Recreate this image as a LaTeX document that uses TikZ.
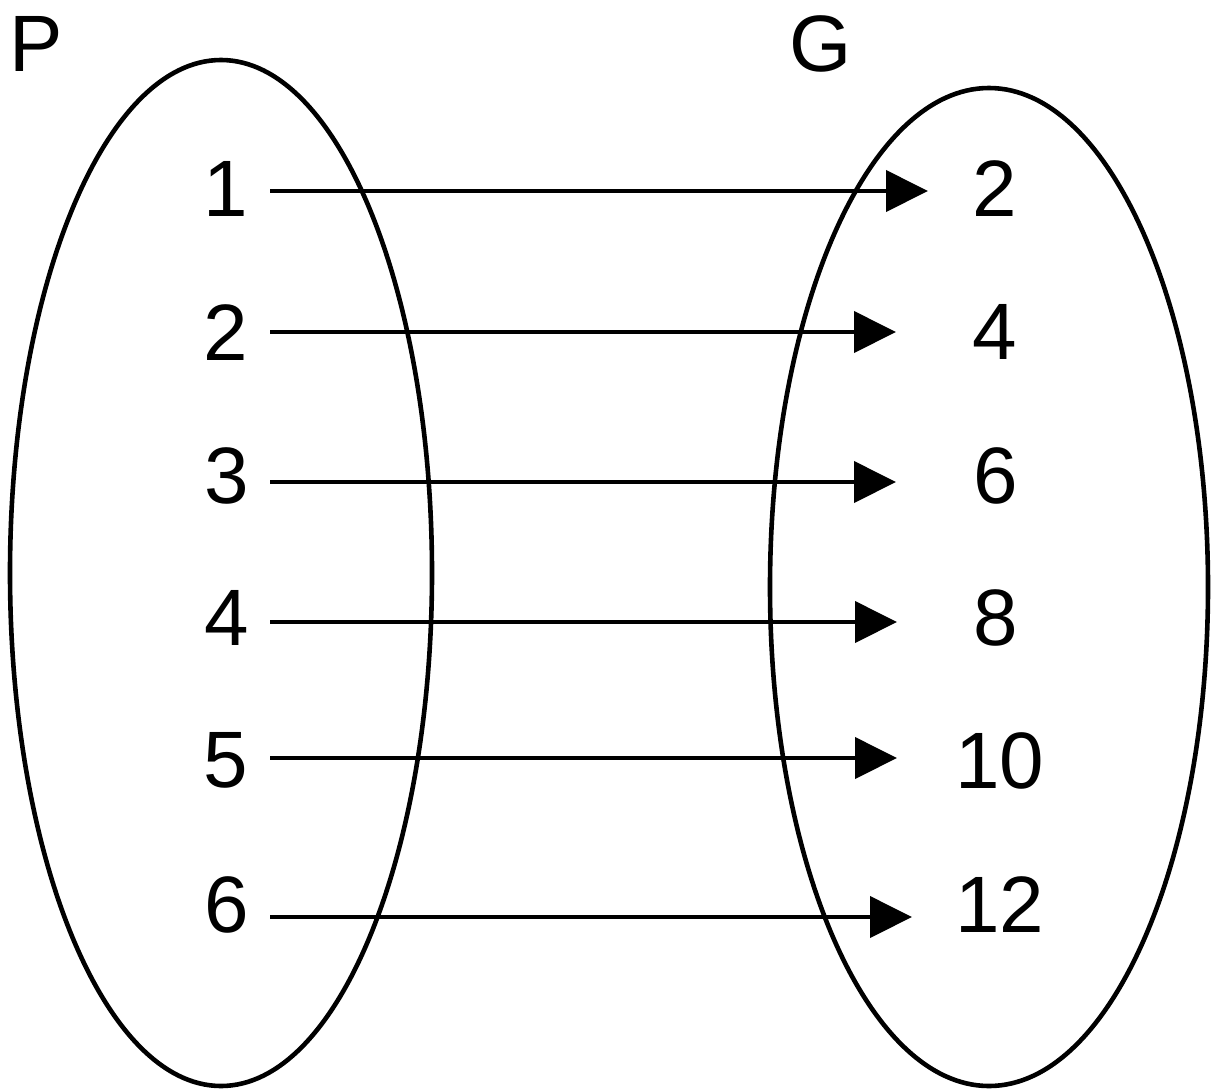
\documentclass[tikz,border=0pt]{standalone}
\usepackage{fontspec}
\setmainfont{Liberation Sans}
\usetikzlibrary{arrows.meta}
\tikzset{
  num/.style={font=\fontsize{80}{96}\selectfont, inner sep=0pt, anchor=base},
  setname/.style={font=\fontsize{80}{96}\selectfont, inner sep=0pt, anchor=base west},
  setring/.style={draw, line width=4.6pt},
  maparrow/.style={line width=4pt, -{Triangle[length=42pt, width=41pt]}}
}
\begin{document}
\begin{tikzpicture}[x=1pt, y=-1pt]
\useasboundingbox (0,0) rectangle (1218,1090);
% sets
\draw[setring] (221,573) ellipse [x radius=211, y radius=513];
\draw[setring] (989,587) ellipse [x radius=219, y radius=499];
\node[setname] (P) at (9,71) {P};
\node[setname] (G) at (789,71) {G};
% domain
\node[num] (l1) at (226,216) {1};
\node[num] (l2) at (226,360) {2};
\node[num] (l3) at (227,503) {3};
\node[num] (l4) at (227,645) {4};
\node[num] (l5) at (226,787) {5};
\node[num] (l6) at (227,932) {6};
% codomain
\node[num] (r1) at (995,216) {2};
\node[num] (r2) at (995,359) {4};
\node[num] (r3) at (996,503) {6};
\node[num] (r4) at (996,645) {8};
\node[num] (r5) at (1000,788) {10};
\node[num] (r6) at (1000,932) {12};
% arrow ends
\coordinate (a1) at (270,191); \coordinate (b1) at (928,191);
\coordinate (a2) at (270,332); \coordinate (b2) at (896,332);
\coordinate (a3) at (270,482); \coordinate (b3) at (896,482);
\coordinate (a4) at (270,622); \coordinate (b4) at (897,622);
\coordinate (a5) at (270,758); \coordinate (b5) at (897,758);
\coordinate (a6) at (270,917); \coordinate (b6) at (912,917);
\foreach \i in {1,...,6} { \draw[maparrow] (a\i) -- (b\i); }
\end{tikzpicture}
\end{document}
